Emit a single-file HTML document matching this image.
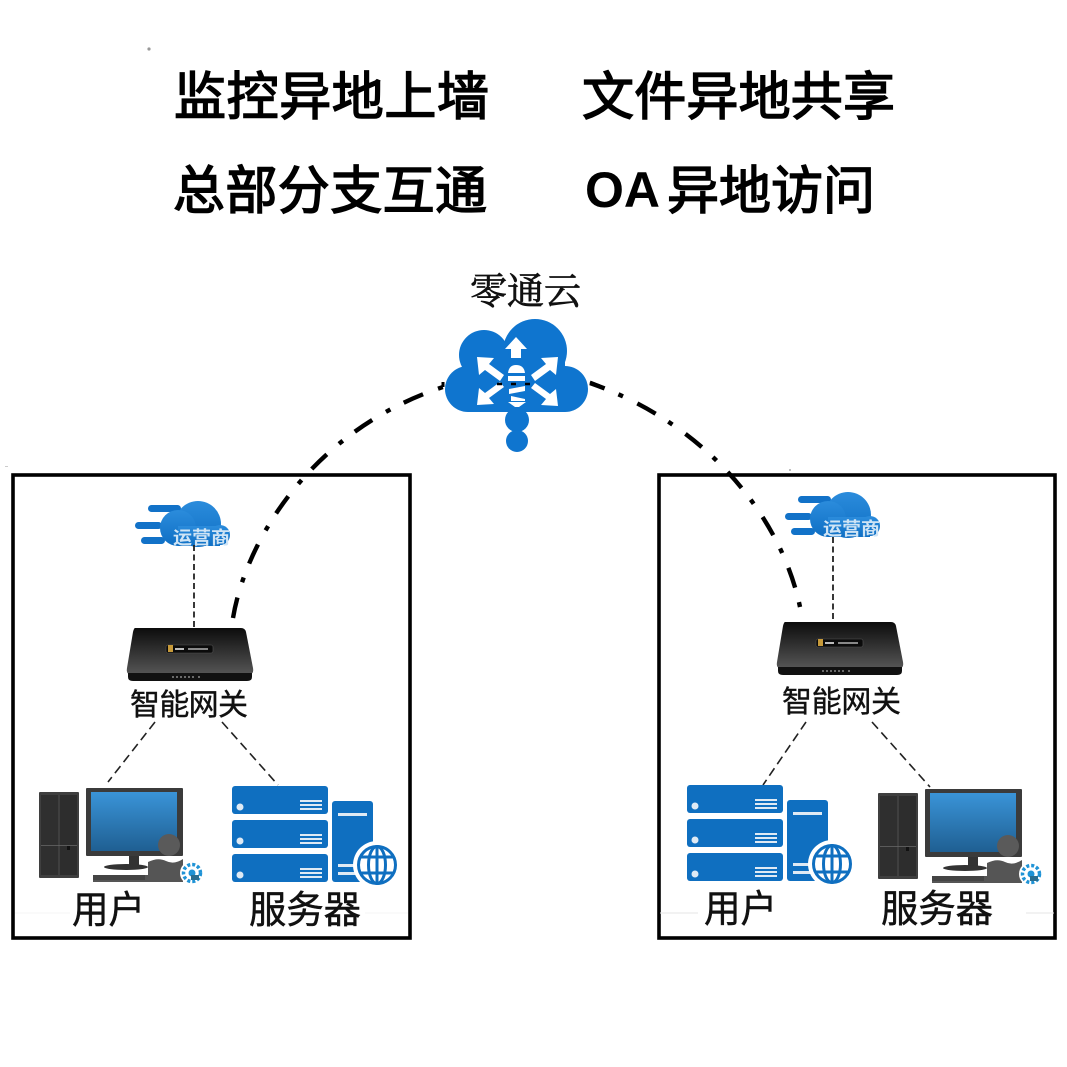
<!DOCTYPE html>
<html><head><meta charset="utf-8">
<style>
html,body{margin:0;padding:0;background:#fff}
svg{display:block}
.h{font-family:"Liberation Sans","Noto Sans CJK SC",sans-serif;font-size:52px;fill:#000;stroke:#000;stroke-width:1.5px}
.oa{font-family:"Liberation Sans",sans-serif;font-size:50px;font-weight:bold;fill:#000}
.l{font-family:"Liberation Sans","Noto Sans CJK SC",sans-serif;font-size:38px;fill:#111;stroke:#111;stroke-width:.5px}
.g{font-family:"Liberation Sans","Noto Sans CJK SC",sans-serif;font-size:30px;fill:#111;stroke:#111;stroke-width:.4px}
.c{font-family:"Liberation Serif","Noto Serif CJK SC",serif;font-size:37px;fill:#111;stroke:#111;stroke-width:.7px}
.o{font-family:"Liberation Sans","Noto Sans CJK SC",sans-serif;font-size:18px;font-weight:bold;fill:#cfe4f5}
</style></head><body>
<svg width="1067" height="1067" viewBox="0 0 1067 1067" xmlns="http://www.w3.org/2000/svg">
<defs>
<linearGradient id="scr" x1="0" y1="0" x2="0" y2="1"><stop offset="0" stop-color="#3a94d8"/><stop offset="1" stop-color="#1f5f92"/></linearGradient>
<linearGradient id="rt" x1="0" y1="0" x2="0" y2="1"><stop offset="0" stop-color="#0c0c0c"/><stop offset="1" stop-color="#555"/></linearGradient>
<linearGradient id="oc" x1="0" y1="0" x2="0" y2="1"><stop offset="0" stop-color="#2b8cdc"/><stop offset="1" stop-color="#0f6fc4"/></linearGradient>

<g id="router">
<path d="M135 628 H241 Q245 628 246 632 L253 668 Q254 674 250 674 H130 Q126 674 127 668 L133 632 Q134 628 135 628Z" fill="url(#rt)"/>
<path d="M128 673 H252 V677 Q252 681 247 681 H133 Q128 681 128 677Z" fill="#111"/>
<rect x="166" y="645" width="47" height="8" rx="2" fill="#0b0b0b" stroke="#555" stroke-width=".6"/>
<rect x="168" y="645" width="5" height="7" fill="#c79a3a"/>
<rect x="175" y="648" width="9" height="2" fill="#bbb"/><rect x="188" y="648" width="20" height="2" fill="#888"/>
<g fill="#aaa"><circle cx="173" cy="677" r=".9"/><circle cx="177" cy="677" r=".9"/><circle cx="181" cy="677" r=".9"/><circle cx="185" cy="677" r=".9"/><circle cx="189" cy="677" r=".9"/><circle cx="193" cy="677" r=".9"/><circle cx="199" cy="677" r=".9"/></g>
</g>

<g id="opcloud">
<g fill="#1272c8"><rect x="148" y="505" width="33" height="7" rx="3.5"/><rect x="135" y="522" width="27" height="7" rx="3.5"/><rect x="141" y="537" width="24" height="7" rx="3.5"/></g>
<g fill="url(#oc)"><circle cx="198" cy="524" r="23"/><circle cx="178" cy="528" r="18"/><circle cx="220" cy="535" r="10"/><rect x="178" y="526" width="42" height="20"/></g>
<text x="173" y="544" class="o" textLength="57" lengthAdjust="spacingAndGlyphs">运营商</text>
</g>

<g id="pc">
<rect x="39" y="792" width="40" height="86" rx="1" fill="#3f3f3f"/>
<rect x="41" y="795" width="17" height="80" fill="#2f2f2f"/><rect x="60" y="795" width="17" height="80" fill="#2d2d2d"/>
<rect x="41" y="845" width="36" height=".8" fill="#666"/><rect x="67" y="846" width="3" height="4" fill="#111"/>
<rect x="86" y="788" width="97" height="68" rx="1" fill="#3b3b3b"/>
<rect x="91" y="792" width="86" height="59" fill="url(#scr)"/>
<rect x="129" y="856" width="10" height="9" fill="#333"/>
<ellipse cx="126" cy="867" rx="22" ry="3" fill="#333"/>
<circle cx="169" cy="845" r="11" fill="#5a5a5a"/>
<path d="M148 862 Q158 857 166 861 T183 859 L183 882 H93 V875 H148Z" fill="#555"/>
<rect x="93" y="875" width="52" height="5" fill="#444"/>
<circle cx="192" cy="873" r="12" fill="#fff"/>
<circle cx="192" cy="873" r="8.5" fill="none" stroke="#1f93d6" stroke-width="3.5" stroke-dasharray="3 2"/>
<circle cx="192" cy="873" r="3.5" fill="#1f93d6"/>
<rect x="191" y="875" width="8" height="5" fill="#2a6d8f"/>
</g>

<g id="srv" fill="#0f6fc0">
<rect x="232" y="786" width="96" height="28" rx="3"/><rect x="232" y="820" width="96" height="28" rx="3"/><rect x="232" y="854" width="96" height="28" rx="3"/>
<rect x="332" y="801" width="41" height="81" rx="3"/>
<g fill="#dfeaf4">
<circle cx="240" cy="807" r="3.5"/><circle cx="240" cy="841" r="3.5"/><circle cx="240" cy="875" r="3.5"/>
<rect x="300" y="800" width="22" height="2"/><rect x="300" y="804" width="22" height="2"/><rect x="300" y="808" width="22" height="2"/>
<rect x="300" y="834" width="22" height="2"/><rect x="300" y="838" width="22" height="2"/><rect x="300" y="842" width="22" height="2"/>
<rect x="300" y="868" width="22" height="2"/><rect x="300" y="872" width="22" height="2"/><rect x="300" y="876" width="22" height="2"/>
<rect x="338" y="813" width="29" height="3"/><rect x="338" y="864" width="18" height="3"/><rect x="338" y="872" width="18" height="3"/>
</g>
<circle cx="377" cy="865" r="24" fill="#fff"/>
<g fill="none" stroke="#0f6fc0" stroke-width="3"><circle cx="377" cy="865" r="18.5"/><ellipse cx="377" cy="865" rx="8.5" ry="18.5"/><path d="M377 846V884M360 857H394M360 873H394"/></g>
</g>
</defs>

<rect width="1067" height="1067" fill="#fff"/>
<circle cx="149" cy="49" r="1.6" fill="#999"/>
<circle cx="790" cy="470" r="1" fill="#aaa"/>
<rect x="5" y="466" width="3" height="1" fill="#ccc"/>

<!-- headings -->
<text x="174" y="115" class="h" textLength="315">监控异地上墙</text>
<text x="582" y="115" class="h" textLength="313">文件异地共享</text>
<text x="173" y="209" class="h" textLength="314">总部分支互通</text>
<text x="585" y="207" class="oa">OA</text>
<text x="667" y="209" class="h" textLength="208">异地访问</text>
<text x="470" y="304" class="c" textLength="111">零通云</text>

<!-- boxes -->
<g fill="none" stroke="#000" stroke-width="3.6">
<rect x="13" y="475" width="397" height="463"/>
<rect x="659" y="475" width="396" height="463"/>
</g>
<g stroke="#e6e6e6" stroke-width="1"><path d="M660 913H698M1026 913H1054"/></g>
<g stroke="#f5f5f5" stroke-width="1"><path d="M15 913H70M365 913H408"/></g>

<!-- arcs -->
<g fill="none" stroke="#000" stroke-width="4.4">
<path stroke-dasharray="21 16 5 15" d="M233 618 C246 540 312 430 443 387"/>
<path stroke-dasharray="5 15 21 16" d="M800 607 C782 520 710 425 590 383"/>
</g>

<!-- cloud -->
<g fill="#0f75cf">
<circle cx="535" cy="351" r="32"/><circle cx="484" cy="355" r="25"/><circle cx="468" cy="389" r="23"/><circle cx="565" cy="389" r="23"/>
<rect x="468" y="355" width="97" height="57"/>
<circle cx="517" cy="420" r="12"/><circle cx="517" cy="441" r="11"/>
</g>
<g fill="#fff">
<path d="M516 337 L527 349 H521 V358 H511 V349 H505Z"/>
<path d="M477 357 L494 358 L489 364 L504 375 L500 381 L485 370 L479 375Z"/>
<path d="M558 357 L541 358 L546 364 L531 375 L535 381 L550 370 L556 375Z"/>
<path d="M477 405 L494 404 L489 398 L504 387 L500 382 L485 393 L479 388Z"/>
<path d="M558 406 L541 405 L546 399 L531 388 L535 383 L550 394 L556 389Z"/>
<path d="M508 373 Q509 365 516 365 Q524 365 525 373Z"/>
<rect x="508" y="376" width="17" height="5"/>
<path d="M509 389 L525 386 V391 L509 394Z M511 396 L525 399 V401 H511Z M508 402 H526 L519 407 H515Z"/>
</g>
<g fill="none" stroke="#000" stroke-width="2.6" stroke-dasharray="5 9"><path d="M497 384H537"/></g>
<path d="M443 382 L443 387M590 382 L600 386" stroke="#000" stroke-width="3"/>

<!-- left section -->
<use href="#opcloud"/>
<path d="M194 545V628" stroke="#222" stroke-width="1.8" stroke-dasharray="6 3.5" fill="none"/>
<use href="#router"/>
<text x="130" y="715" class="g" textLength="118">智能网关</text>
<g stroke="#222" stroke-width="1.6" stroke-dasharray="9 5" fill="none"><path d="M155 722L108 782"/><path d="M222 722L278 785"/></g>
<use href="#pc"/>
<use href="#srv"/>
<text x="72" y="923" class="l" textLength="73" lengthAdjust="spacingAndGlyphs">用户</text>
<text x="249" y="923" class="l" textLength="112" lengthAdjust="spacingAndGlyphs">服务器</text>

<!-- right section -->
<use href="#opcloud" transform="translate(650 -9)"/>
<path d="M833 537V620" stroke="#222" stroke-width="1.8" stroke-dasharray="6 3.5" fill="none"/>
<use href="#router" transform="translate(650 -6)"/>
<text x="782" y="712" class="g" textLength="119">智能网关</text>
<g stroke="#222" stroke-width="1.6" stroke-dasharray="9 5" fill="none"><path d="M806 722L763 785"/><path d="M872 722L930 787"/></g>
<use href="#srv" transform="translate(455 -1)"/>
<use href="#pc" transform="translate(839 1)"/>
<text x="704" y="922" class="l" textLength="73" lengthAdjust="spacingAndGlyphs">用户</text>
<text x="881" y="922" class="l" textLength="112" lengthAdjust="spacingAndGlyphs">服务器</text>
</svg>
</body></html>
